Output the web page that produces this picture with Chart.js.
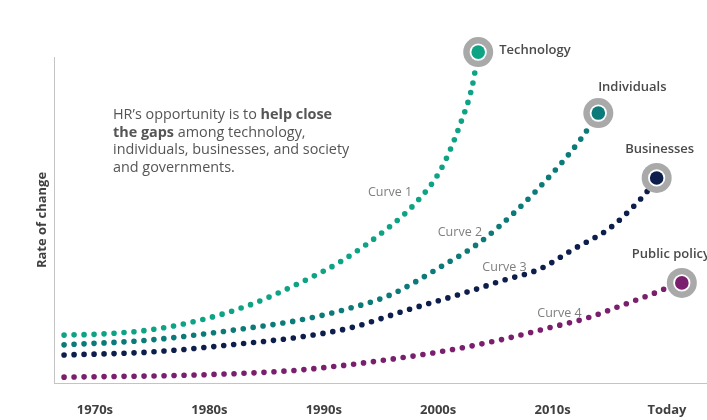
<!DOCTYPE html>
<html>
<head>
<meta charset="utf-8">
<script src="https://cdn.jsdelivr.net/npm/chart.js@4.4.1/dist/chart.umd.min.js"></script>
<style>
  html, body { margin: 0; padding: 0; background: #ffffff; }
  #wrap { width: 707px; height: 420px; }
</style>
</head>
<body>
<div id="wrap"><canvas id="c" width="707" height="420"></canvas></div>
<script>
// Decade ticks along the time axis (index 0 = 1970s)
const decadeLabels = ['1970s', '1980s', '1990s', '2000s', '2010s', 'Today'];

// Series names shown at the end of each curve
const seriesNames = ['Technology', 'Individuals', 'Businesses', 'Public policy'];
const curveNames = ['Curve 1', 'Curve 2', 'Curve 3', 'Curve 4'];

// Curve 1 – Technology (x in decades since 1970s, y = rate of change)
const techX = [-0.27, 0.04, 0.48, 0.92, 1.35, 1.79, 2.14, 2.56, 2.81, 3.02, 3.19, 3.30, 3.35];
const techY = [14.7, 15.0, 16.3, 19.3, 23.9, 30.7, 37.1, 47.5, 55.5, 65.3, 79.1, 91.4, 101.5];

// Curve 2 – Individuals
const indivX = [-0.27, 0.48, 1.35, 1.79, 2.17, 2.58, 3.02, 3.37, 3.69, 4.00, 4.24, 4.40];
const indivY = [11.7, 13.2, 16.9, 19.3, 22.4, 27.0, 35.6, 43.3, 53.1, 64.4, 74.5, 82.8];

// Curve 3 – Businesses
const busX = [-0.27, 0.48, 1.35, 1.79, 2.23, 2.73, 3.30, 3.54, 3.89, 4.18, 4.50, 4.72, 4.85, 4.91];
const busY = [8.6, 9.5, 12.3, 14.1, 16.9, 22.4, 28.4, 31.2, 35.0, 41.0, 47.5, 54.6, 59.8, 62.9];

// Curve 4 – Public policy
const policyX = [-0.27, 0.92, 1.79, 2.67, 3.10, 3.54, 4.00, 4.30, 4.59, 4.85, 5.07, 5.13];
const policyY = [1.8, 2.5, 4.0, 7.7, 10.1, 13.2, 17.2, 19.9, 23.6, 27.0, 30.1, 30.7];

// Where the "Curve n" captions sit, in data units
const captionX = [2.58, 3.19, 3.58, 4.06];
const captionY = [58.6, 46.3, 35.6, 21.2];

const colors = ['#0fa386', '#0c7a78', '#0d1e4c', '#7a1f6e'];
const nameOffsets = [
  { dx: 21, dy: -2, align: 'left' },
  { dx: 34, dy: -26, align: 'center' },
  { dx: 3, dy: -29, align: 'center' },
  { dx: -50, dy: -29, align: 'left' }
];

const seriesX = [techX, indivX, busX, policyX];
const seriesY = [techY, indivY, busY, policyY];

const datasets = seriesX.map((xs, s) => ({
  label: seriesNames[s],
  data: xs.map((x, i) => ({ x: x, y: seriesY[s][i] })),
  borderColor: colors[s],
  borderWidth: 5.6,
  borderDash: [0, 10],
  borderCapStyle: 'round',
  cubicInterpolationMode: 'monotone',
  pointRadius: 0,
  fill: false,
  clip: false
}));

const FONT = "'Open Sans', 'Noto Sans', sans-serif";

// Intro text, drawn in runs of regular and bold type
const introLines = [
  [['HR\u2019s opportunity is to ', false], ['help close', true]],
  [['the gaps', true], [' among technology,', false]],
  [['individuals, businesses, and society', false]],
  [['and governments.', false]]
];

const decorations = {
  id: 'decorations',
  afterDatasetsDraw(chart) {
    const ctx = chart.ctx;
    const xs = chart.scales.x, ys = chart.scales.y;
    ctx.save();

    // End markers: grey halo, white ring, coloured core
    chart.data.datasets.forEach((ds, s) => {
      const meta = chart.getDatasetMeta(s);
      const pt = meta.data[meta.data.length - 1];
      ctx.beginPath();
      ctx.arc(pt.x, pt.y, 15, 0, Math.PI * 2);
      ctx.fillStyle = '#a9a9a9';
      ctx.fill();
      ctx.beginPath();
      ctx.arc(pt.x, pt.y, 8.6, 0, Math.PI * 2);
      ctx.fillStyle = '#ffffff';
      ctx.fill();
      ctx.beginPath();
      ctx.arc(pt.x, pt.y, 6.8, 0, Math.PI * 2);
      ctx.fillStyle = colors[s];
      ctx.fill();

      const o = nameOffsets[s];
      ctx.font = '600 13px ' + FONT;
      ctx.fillStyle = '#4a4a4a';
      ctx.textAlign = o.align;
      ctx.textBaseline = 'middle';
      ctx.fillText(seriesNames[s], pt.x + o.dx, pt.y + o.dy);
    });

    // Curve captions
    ctx.font = '12.5px ' + FONT;
    ctx.fillStyle = '#7f7f7f';
    ctx.textAlign = 'center';
    ctx.textBaseline = 'middle';
    curveNames.forEach((name, i) => {
      ctx.fillText(name, xs.getPixelForValue(captionX[i]), ys.getPixelForValue(captionY[i]));
    });

    // Intro paragraph
    ctx.textAlign = 'left';
    ctx.fillStyle = '#555555';
    let y = 115;
    introLines.forEach(line => {
      let x = 113;
      line.forEach(([text, bold]) => {
        ctx.font = (bold ? '700 ' : '400 ') + '14.4px ' + FONT;
        ctx.fillText(text, x, y);
        x += ctx.measureText(text).width;
      });
      y += 17.7;
    });

    ctx.restore();
  }
};

new Chart(document.getElementById('c'), {
  type: 'line',
  data: { datasets: datasets },
  options: {
    responsive: false,
    animation: false,
    events: [],
    layout: { padding: { left: 30, top: 57, right: 0, bottom: 0 } },
    plugins: { legend: { display: false }, tooltip: { enabled: false } },
    scales: {
      x: {
        type: 'linear',
        min: -0.358,
        max: 5.35,
        grid: { display: false, drawTicks: false },
        border: { display: true, color: '#c4c4c4', width: 1 },
        afterBuildTicks: (scale) => { scale.ticks = decadeLabels.map((_, i) => ({ value: i })); },
        afterFit: (scale) => { scale.height = 37; },
        ticks: {
          padding: 19,
          autoSkip: false,
          maxRotation: 0,
          color: '#404040',
          font: { family: FONT, size: 13, weight: '700' },
          callback: (v) => decadeLabels[v]
        }
      },
      y: {
        type: 'linear',
        min: 0,
        max: 100,
        grid: { display: false, drawTicks: false },
        border: { display: true, color: '#c4c4c4', width: 1 },
        ticks: { display: false },
        afterFit: (scale) => { scale.width = 24; },
        title: {
          display: true,
          text: 'Rate of change',
          color: '#404040',
          font: { family: FONT, size: 13, weight: '700' },
          padding: { top: 4, bottom: 4 }
        }
      }
    }
  },
  plugins: [decorations]
});
</script>
</body>
</html>
